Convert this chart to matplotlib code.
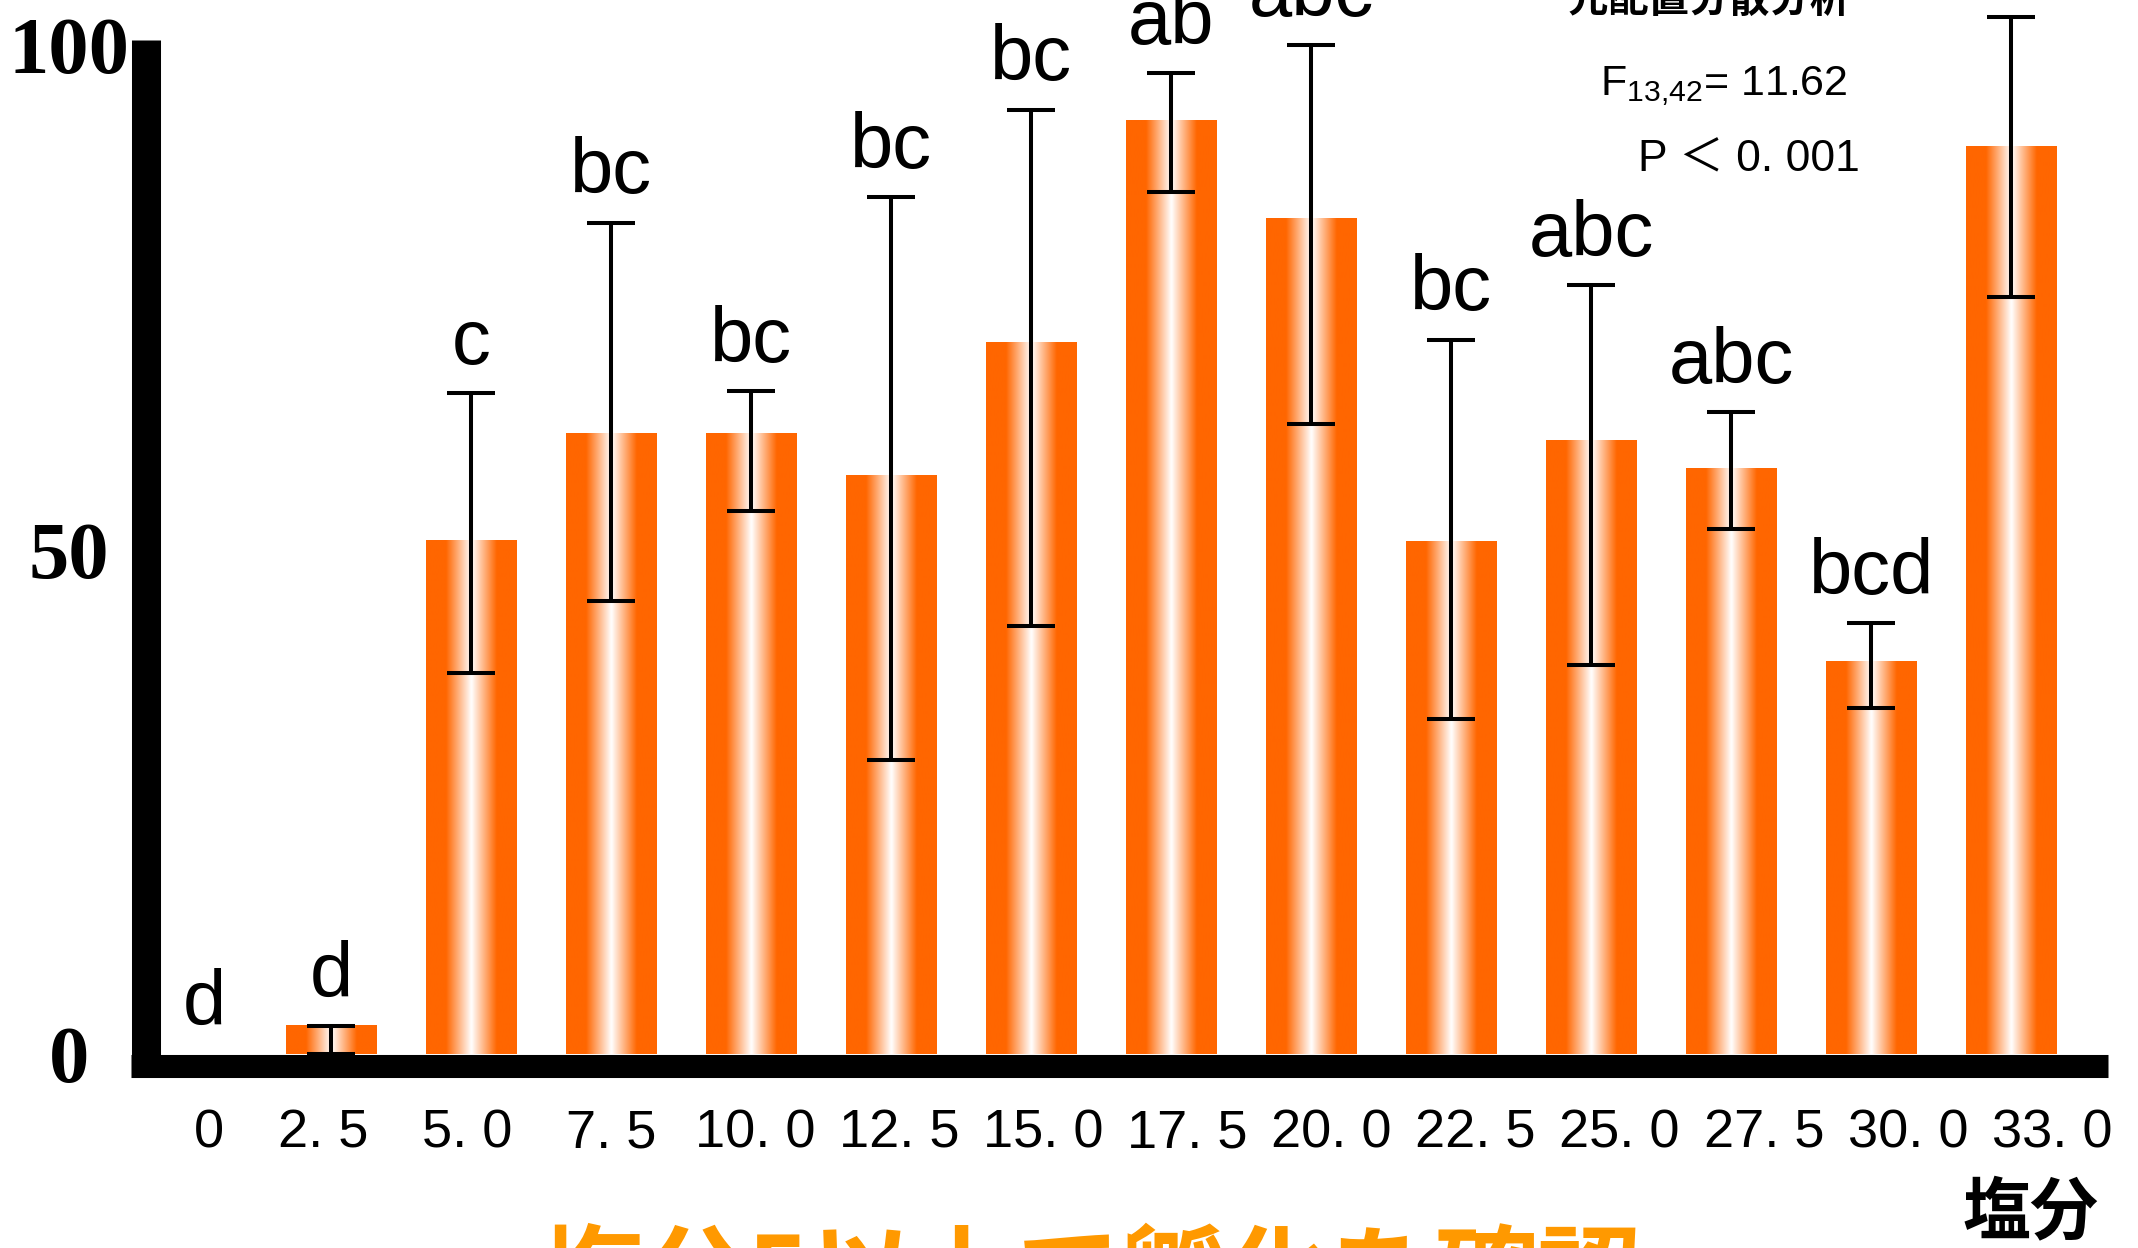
import numpy as np
import matplotlib

matplotlib.use("Agg")
import matplotlib.pyplot as plt
from matplotlib import font_manager

# salinity groups and hatching rate (mean with error-bar ends)
salinity = ["0", "2. 5", "5. 0", "7. 5", "10. 0", "12. 5", "15. 0",
            "17. 5", "20. 0", "22. 5", "25. 0", "27. 5", "30. 0", "33. 0"]
means = [0, 2.8, 50.9, 61.5, 61.5, 57.3, 70.5, 92.5, 82.8, 50.8, 60.8, 58.0, 38.9, 89.9]
err_top = [0, 2.8, 65.5, 82.4, 65.7, 84.9, 93.6, 97.2, 100.0, 70.8, 76.2, 63.6, 42.7, 102.8]
err_bottom = [0, 0, 37.8, 44.9, 53.8, 29.1, 42.4, 85.4, 62.4, 33.2, 38.6, 52.0, 34.3, 75.0]
letters = ["d", "d", "c", "bc", "bc", "bc", "bc", "ab", "abc", "bc", "abc", "abc", "bcd", ""]
y_ticks = [0, 50, 100]

installed = {f.name for f in font_manager.fontManager.ttflist}
if "Liberation Sans Narrow" in installed:
    narrow, narrow_k = "Liberation Sans Narrow", 1.22
else:
    narrow, narrow_k = "Liberation Sans", 1.0
jp = "Noto Sans CJK JP"

plt.rcParams["mathtext.fontset"] = "custom"
plt.rcParams["mathtext.rm"] = narrow

W, H = 2138, 1248
fig = plt.figure(figsize=(W / 100, H / 100), dpi=100)
ax = fig.add_axes([160 / W, 194 / H, 1948 / W, 1054 / H])

x = np.arange(len(means))
bars = ax.bar(x, means, width=0.643, color="none", edgecolor="none")

# orange -> white -> orange horizontal shading inside each bar
t = np.linspace(0, 1, 256)
s = np.clip(1 - np.abs(t - 0.5) / 0.28, 0, 1)
orange = np.array([1.0, 0.4, 0.0])
grad = (orange[None, :] * (1 - s[:, None]) + s[:, None])[None, :, :]
for b in bars:
    if b.get_height() <= 0:
        continue
    ax.imshow(grad, extent=(b.get_x(), b.get_x() + b.get_width(), 0, b.get_height()),
              aspect="auto", interpolation="bilinear", zorder=1)

m = np.array(means)
top = np.array(err_top)
bot = np.array(err_bottom)
has = top > bot
ax.errorbar(x[has], m[has], yerr=[m[has] - bot[has], top[has] - m[has]], fmt="none",
            ecolor="black", elinewidth=2.9, capsize=17, capthick=2.9, zorder=3)

for xi, yi, lab in zip(x, top, letters):
    dx = 10 if xi == 0 else 0  # the lone "d" sits a little right of its slot
    ax.annotate(lab, (xi, yi), xytext=(dx, 21), textcoords="offset points",
                ha="center", va="baseline", fontsize=56, family="Liberation Sans",
                annotation_clip=False)

ax.set_xlim(-0.221, 13.69)
ax.set_ylim(0, 104.46)

for side in ("top", "right"):
    ax.spines[side].set_visible(False)
ax.spines["left"].set_linewidth(20.9)
ax.spines["left"].set_position(("outward", 10.4))
ax.spines["left"].set_bounds(-2.28, 100.5)
ax.spines["bottom"].set_linewidth(16.6)
ax.spines["bottom"].set_position(("outward", 8.3))
ax.spines["bottom"].set_bounds(-0.429, 13.69)
for sp in ax.spines.values():
    sp.set_capstyle("butt")
    sp.set_zorder(4)

ax.set_yticks(y_ticks)
ax.set_yticklabels([str(v) for v in y_ticks], fontsize=58, family="Liberation Serif",
                   fontweight="bold")
ax.tick_params(axis="y", length=0, pad=55)
for lbl in ax.get_yticklabels():
    lbl.set_horizontalalignment("center")

# the category labels sit on a slightly wider pitch than the bars
tick_pos = np.r_[0.13, np.linspace(0.943, 13.29, len(salinity) - 1)]
ax.set_xticks(tick_pos)
ax.set_xticklabels(salinity, fontsize=39 * narrow_k, family=narrow)
ax.tick_params(axis="x", length=0, pad=30.6)

# statistics box, top right
fig.text(1690 / W, 1 - 12 / H, "一元配置分散分析", ha="center", va="baseline",
         fontsize=29, family=jp, fontweight="bold")
fig.text(1600 / W, 1 - 95 / H, r"F$_{\mathrm{13{,}42}}$= 11.62", ha="left", va="baseline",
         fontsize=31, family=narrow)
fig.text(1638 / W, 1 - 171 / H, "P ＜ 0. 001", ha="left", va="baseline",
         fontsize=32, family=[narrow, jp])

fig.text(2030 / W, 1 - 1214 / H, "塩分", ha="center", va="center",
         fontsize=49, family=jp, fontweight="bold")
fig.text(540 / W, 1 - 1228 / H, "塩分5以上で孵化を確認", ha="left", va="top",
         fontsize=75, family=jp, fontweight="bold", color="#FF9900")

fig.savefig("out.png", dpi=100)
